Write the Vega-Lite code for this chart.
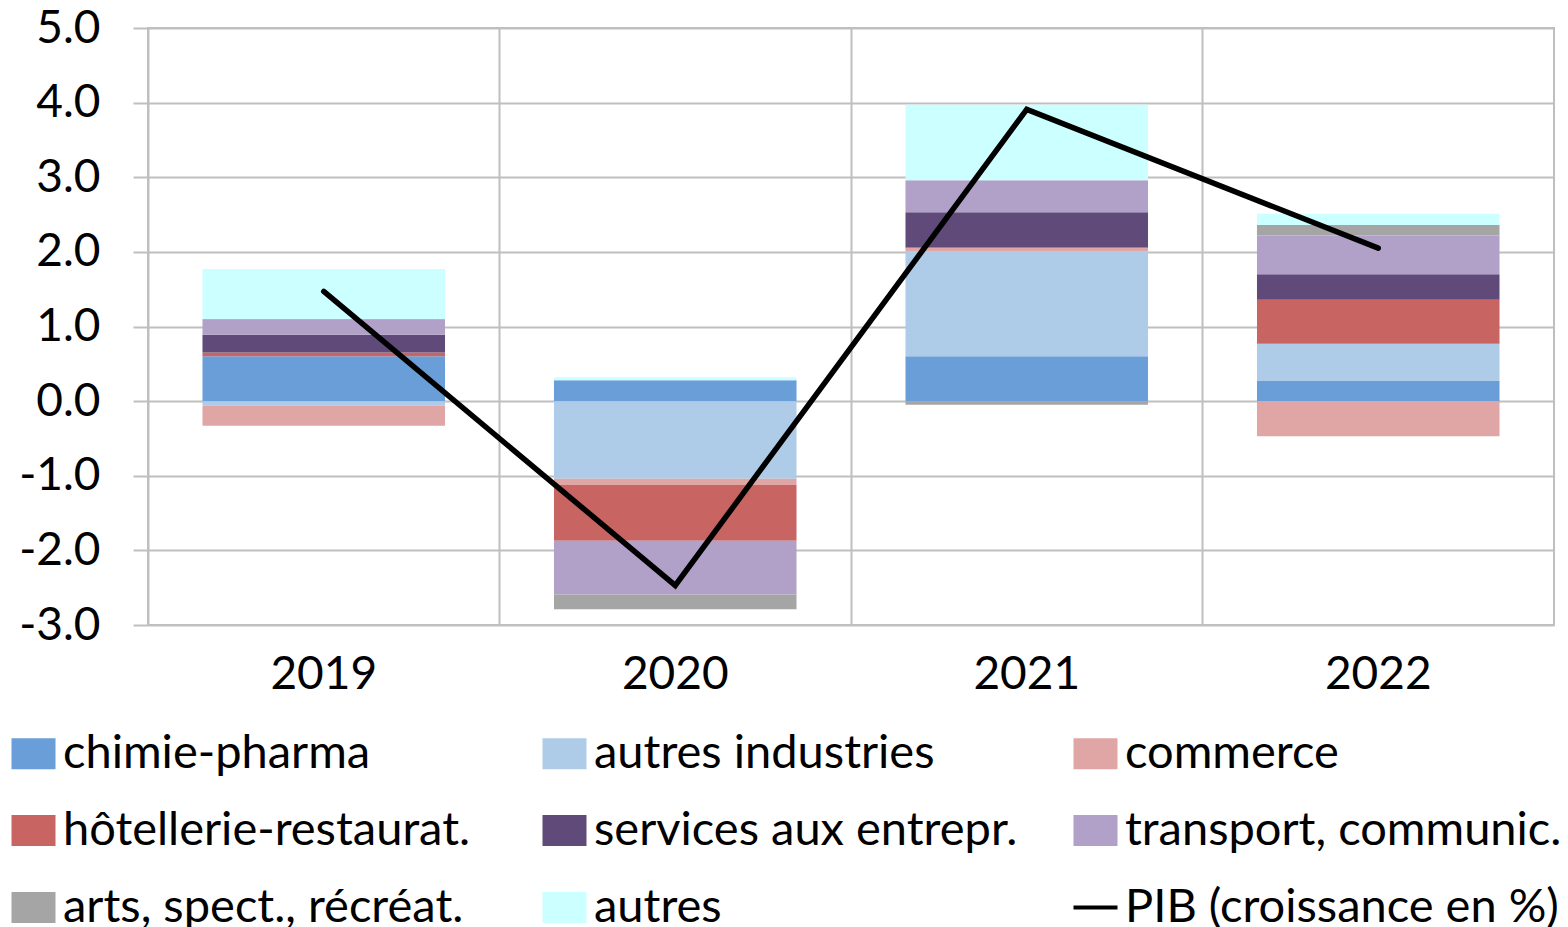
{
  "$schema": "https://vega.github.io/schema/vega-lite/v6.json",
  "autosize": "none",
  "width": 1406,
  "height": 597,
  "padding": {"left": 148, "top": 28, "right": 14, "bottom": 302},
  "background": "white",
  "config": {
    "font": "Lato",
    "view": {"stroke": "#BFBFBF", "strokeWidth": 2}
  },
  "datasets": {
    "secteurs": [
      {"annee": "2019", "secteur": "chimie-pharma", "ordre": 1, "valeur": 0.60},
      {"annee": "2019", "secteur": "autres industries", "ordre": 2, "valeur": -0.06},
      {"annee": "2019", "secteur": "commerce", "ordre": 3, "valeur": -0.27},
      {"annee": "2019", "secteur": "hôtellerie-restaurat.", "ordre": 4, "valeur": 0.05},
      {"annee": "2019", "secteur": "services aux entrepr.", "ordre": 5, "valeur": 0.24},
      {"annee": "2019", "secteur": "transport, communic.", "ordre": 6, "valeur": 0.20},
      {"annee": "2019", "secteur": "arts, spect., récréat.", "ordre": 7, "valeur": 0.01},
      {"annee": "2019", "secteur": "autres", "ordre": 8, "valeur": 0.67},
      {"annee": "2020", "secteur": "chimie-pharma", "ordre": 1, "valeur": 0.28},
      {"annee": "2020", "secteur": "autres industries", "ordre": 2, "valeur": -1.04},
      {"annee": "2020", "secteur": "commerce", "ordre": 3, "valeur": -0.08},
      {"annee": "2020", "secteur": "hôtellerie-restaurat.", "ordre": 4, "valeur": -0.75},
      {"annee": "2020", "secteur": "services aux entrepr.", "ordre": 5, "valeur": 0.0},
      {"annee": "2020", "secteur": "transport, communic.", "ordre": 6, "valeur": -0.72},
      {"annee": "2020", "secteur": "arts, spect., récréat.", "ordre": 7, "valeur": -0.20},
      {"annee": "2020", "secteur": "autres", "ordre": 8, "valeur": 0.04},
      {"annee": "2021", "secteur": "chimie-pharma", "ordre": 1, "valeur": 0.60},
      {"annee": "2021", "secteur": "autres industries", "ordre": 2, "valeur": 1.41},
      {"annee": "2021", "secteur": "commerce", "ordre": 3, "valeur": 0.04},
      {"annee": "2021", "secteur": "hôtellerie-restaurat.", "ordre": 4, "valeur": 0.01},
      {"annee": "2021", "secteur": "services aux entrepr.", "ordre": 5, "valeur": 0.47},
      {"annee": "2021", "secteur": "transport, communic.", "ordre": 6, "valeur": 0.43},
      {"annee": "2021", "secteur": "arts, spect., récréat.", "ordre": 7, "valeur": -0.05},
      {"annee": "2021", "secteur": "autres", "ordre": 8, "valeur": 1.01},
      {"annee": "2022", "secteur": "chimie-pharma", "ordre": 1, "valeur": 0.27},
      {"annee": "2022", "secteur": "autres industries", "ordre": 2, "valeur": 0.50},
      {"annee": "2022", "secteur": "commerce", "ordre": 3, "valeur": -0.47},
      {"annee": "2022", "secteur": "hôtellerie-restaurat.", "ordre": 4, "valeur": 0.59},
      {"annee": "2022", "secteur": "services aux entrepr.", "ordre": 5, "valeur": 0.34},
      {"annee": "2022", "secteur": "transport, communic.", "ordre": 6, "valeur": 0.52},
      {"annee": "2022", "secteur": "arts, spect., récréat.", "ordre": 7, "valeur": 0.14},
      {"annee": "2022", "secteur": "autres", "ordre": 8, "valeur": 0.15}
    ],
    "pib": [
      {"annee": "2019", "pib": 1.47},
      {"annee": "2020", "pib": -2.47},
      {"annee": "2021", "pib": 3.91},
      {"annee": "2022", "pib": 2.05}
    ]
  },
  "encoding": {
    "x": {
      "field": "annee",
      "type": "ordinal",
      "scale": {"paddingInner": 0, "paddingOuter": 0},
      "axis": {
        "title": null,
        "labelAngle": 0,
        "labelFontSize": 46,
        "labelColor": "#000000",
        "labelPadding": 27,
        "ticks": false,
        "domain": false,
        "grid": true,
        "bandPosition": 0,
        "gridColor": "#BFBFBF",
        "gridWidth": 2
      }
    }
  },
  "layer": [
    {
      "data": {"name": "secteurs"},
      "mark": {"type": "bar", "width": {"band": 0.69}},
      "encoding": {
        "y": {
          "field": "valeur",
          "type": "quantitative",
          "stack": "zero",
          "scale": {"domain": [-3, 5], "nice": false, "zero": false},
          "axis": {
            "title": null,
            "values": [-3, -2, -1, 0, 1, 2, 3, 4, 5],
            "labelExpr": "(datum.value < 0 ? '-' : '') + format(abs(datum.value), '.1f')",
            "labelFontSize": 46,
            "labelColor": "#000000",
            "labelPadding": 33,
            "tickSize": 15,
            "tickColor": "#BFBFBF",
            "tickWidth": 2,
            "domain": false,
            "grid": true,
            "gridColor": "#BFBFBF",
            "gridWidth": 2
          }
        },
        "order": {"field": "ordre", "type": "quantitative", "sort": "ascending"},
        "color": {
          "field": "secteur",
          "type": "nominal",
          "scale": {
            "domain": ["chimie-pharma", "autres industries", "commerce", "hôtellerie-restaurat.", "services aux entrepr.", "transport, communic.", "arts, spect., récréat.", "autres", "PIB (croissance en %)"],
            "range": ["#6A9ED8", "#AECBE7", "#E0A6A6", "#C86461", "#5F4A7A", "#B1A0C7", "#A5A5A5", "#CCFFFF", "#000000"]
          },
          "legend": {
            "title": null,
            "orient": "none",
            "legendX": -138,
            "legendY": 702,
            "direction": "horizontal",
            "columns": 3,
            "gridAlign": "all",
            "columnPadding": 34,
            "rowPadding": 29,
            "labelFontSize": 47,
            "labelColor": "#000000",
            "labelOffset": 6,
            "labelLimit": 0,
            "symbolSize": 1600,
            "symbolType": "M-1,-0.675H1V0.675H-1Z",
            "encode": {
              "symbols": {
                "update": {
                  "shape": {"signal": "datum.value === 'PIB (croissance en %)' ? 'M-1.1,0H1.1' : 'M-1,-0.675H1V0.675H-1Z'"},
                  "fill": {"signal": "datum.value === 'PIB (croissance en %)' ? 'transparent' : scale('color', datum.value)"},
                  "stroke": {"signal": "datum.value === 'PIB (croissance en %)' ? '#000000' : 'transparent'"},
                  "strokeWidth": {"value": 4},
                  "opacity": {"value": 1},
                  "fillOpacity": {"value": 1}
                }
              }
            }
          }
        }
      }
    },
    {
      "data": {"name": "pib"},
      "mark": {"type": "line", "color": "#000000", "strokeWidth": 5.5, "strokeCap": "round", "strokeJoin": "miter"},
      "encoding": {
        "y": {"field": "pib", "type": "quantitative"},
        "color": {"datum": "PIB (croissance en %)"}
      }
    }
  ]
}
